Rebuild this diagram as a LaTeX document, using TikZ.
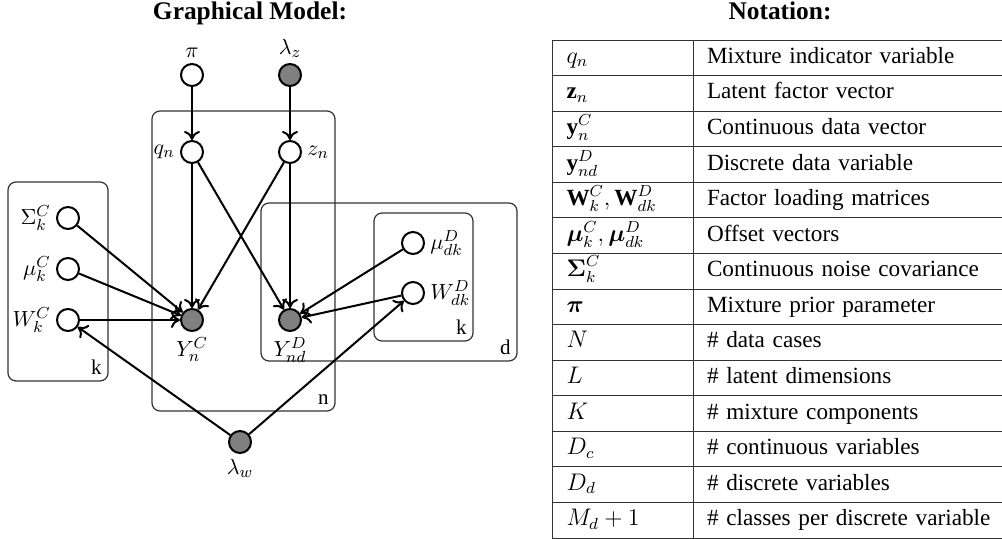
\documentclass[tikz,border=0pt]{standalone}
\usepackage{amsmath}
\usepackage{fontspec}
\setmainfont{Liberation Serif}
\usepackage{tikz}
\usetikzlibrary{shapes.geometric, arrows.meta}
\tikzstyle{latent} = [circle, draw=black, line width=1pt, fill=white, minimum size=11pt, inner sep=0pt]
\tikzstyle{obs} = [circle, draw=black, line width=1pt, fill=gray, minimum size=11pt, inner sep=0pt]
\tikzstyle{plate} = [draw=black!80, line width=0.6pt, rounded corners=4pt]
\tikzstyle{platelabel} = [anchor=south east, inner sep=3pt, font=\fontsize{10.5}{12}\selectfont]
\tikzstyle{arrow} = [line width=1pt,-{To[length=4.5pt,width=8pt]}]
\tikzstyle{title} = [anchor=base, font=\bfseries\fontsize{12.7}{15}\selectfont]
\tikzstyle{symcell} = [rectangle, draw=black!80, line width=0.5pt, minimum width=70.5pt, minimum height=17.79pt, text width=56pt, inner xsep=7.25pt, inner ysep=0pt, text height=8.5pt, text depth=3pt, align=left, font=\fontsize{11.6}{14}\selectfont]
\tikzstyle{desccell} = [rectangle, draw=black!80, line width=0.5pt, minimum width=160pt, minimum height=17.79pt, text width=146pt, inner xsep=7pt, inner ysep=0pt, text height=8.5pt, text depth=3pt, align=left, font=\fontsize{11.6}{14}\selectfont]

\begin{document}
\begin{tikzpicture}[x=0.5pt, y=-0.5pt, node distance=17.79pt, every label/.style={font=\fontsize{11}{13}\selectfont, inner sep=2.5pt}]
		\useasboundingbox (0,0) rectangle (1002,539);
		\node (gmtitle) [title] at (250,19.5) {Graphical Model:};
		\node (nttitle) [title] at (780,19.5) {Notation:};

		% plates
		\draw [plate] (152,111) rectangle (335,411);
		\draw [plate] (8,182) rectangle (108,381);
		\draw [plate] (261,203) rectangle (517,361);
		\draw [plate] (374,213) rectangle (473,341);
		\node (nlab) [platelabel] at (335,411) {$\mathrm{n}$};
		\node (kclab) [platelabel] at (108,381) {$\mathrm{k}$};
		\node (dlab) [platelabel] at (517,361) {$\mathrm{d}$};
		\node (kdlab) [platelabel] at (473,341) {$\mathrm{k}$};

		% variables
		\node (pi) [latent, label=above:$\pi$] at (192,75) {};
		\node (lamz) [obs, label=above:$\lambda_z$] at (290,75) {};
		\node (qn) [latent, label=left:$q_n$] at (192,152) {};
		\node (zn) [latent, label=right:$z_n$] at (290,152) {};
		\node (sigC) [latent, label=left:$\Sigma_k^C$] at (68,218) {};
		\node (muC) [latent, label=left:$\mu_k^C$] at (68,269) {};
		\node (WC) [latent, label=left:$W_k^C$] at (68,320) {};
		\node (YC) [obs, label=below:$Y_n^C$] at (192,320) {};
		\node (YD) [obs, label=below:$Y_{nd}^D$] at (290,320) {};
		\node (muD) [latent, label=right:$\mu_{dk}^D$] at (413,243) {};
		\node (WD) [latent, label=right:$W_{dk}^D$] at (413,293) {};
		\node (lamw) [obs, label=below:$\lambda_w$] at (240,442) {};

		\draw [arrow] (pi) -- (qn);
		\draw [arrow] (lamz) -- (zn);
		\draw [arrow] (qn) -- (YC);
		\draw [arrow] (qn) -- (YD);
		\draw [arrow] (zn) -- (YC);
		\draw [arrow] (zn) -- (YD);
		\draw [arrow] (sigC) -- (YC);
		\draw [arrow] (muC) -- (YC);
		\draw [arrow] (WC) -- (YC);
		\draw [arrow] (muD) -- (YD);
		\draw [arrow] (WD) -- (YD);
		\draw [arrow] (lamw) -- (WC);
		\draw [arrow] (lamw) -- (WD);

		% notation table
		\node (s1) [symcell] at (622.5,57.8) {$q_n$};
		\node (s2) [symcell, below of=s1] {$\mathbf{z}_n$};
		\node (s3) [symcell, below of=s2] {$\mathbf{y}_n^C$};
		\node (s4) [symcell, below of=s3] {$\mathbf{y}_{nd}^D$};
		\node (s5) [symcell, below of=s4] {$\mathbf{W}_k^C,\mathbf{W}_{dk}^D$};
		\node (s6) [symcell, below of=s5] {$\boldsymbol{\mu}_k^C,\boldsymbol{\mu}_{dk}^D$};
		\node (s7) [symcell, below of=s6] {$\boldsymbol{\Sigma}_k^C$};
		\node (s8) [symcell, below of=s7] {$\boldsymbol{\pi}$};
		\node (s9) [symcell, below of=s8] {$N$};
		\node (s10) [symcell, below of=s9] {$L$};
		\node (s11) [symcell, below of=s10] {$K$};
		\node (s12) [symcell, below of=s11] {$D_c$};
		\node (s13) [symcell, below of=s12] {$D_d$};
		\node (s14) [symcell, below of=s13] {$M_d+1$};
		\node (d1) [desccell] at (853,57.8) {Mixture indicator variable};
		\node (d2) [desccell, below of=d1] {Latent factor vector};
		\node (d3) [desccell, below of=d2] {Continuous data vector};
		\node (d4) [desccell, below of=d3] {Discrete data variable};
		\node (d5) [desccell, below of=d4] {Factor loading matrices};
		\node (d6) [desccell, below of=d5] {Offset vectors};
		\node (d7) [desccell, below of=d6] {Continuous noise covariance};
		\node (d8) [desccell, below of=d7] {Mixture prior parameter};
		\node (d9) [desccell, below of=d8] {\# data cases};
		\node (d10) [desccell, below of=d9] {\# latent dimensions};
		\node (d11) [desccell, below of=d10] {\# mixture components};
		\node (d12) [desccell, below of=d11] {\# continuous variables};
		\node (d13) [desccell, below of=d12] {\# discrete variables};
		\node (d14) [desccell, below of=d13] {\# classes per discrete variable};
	\end{tikzpicture}
\end{document}
